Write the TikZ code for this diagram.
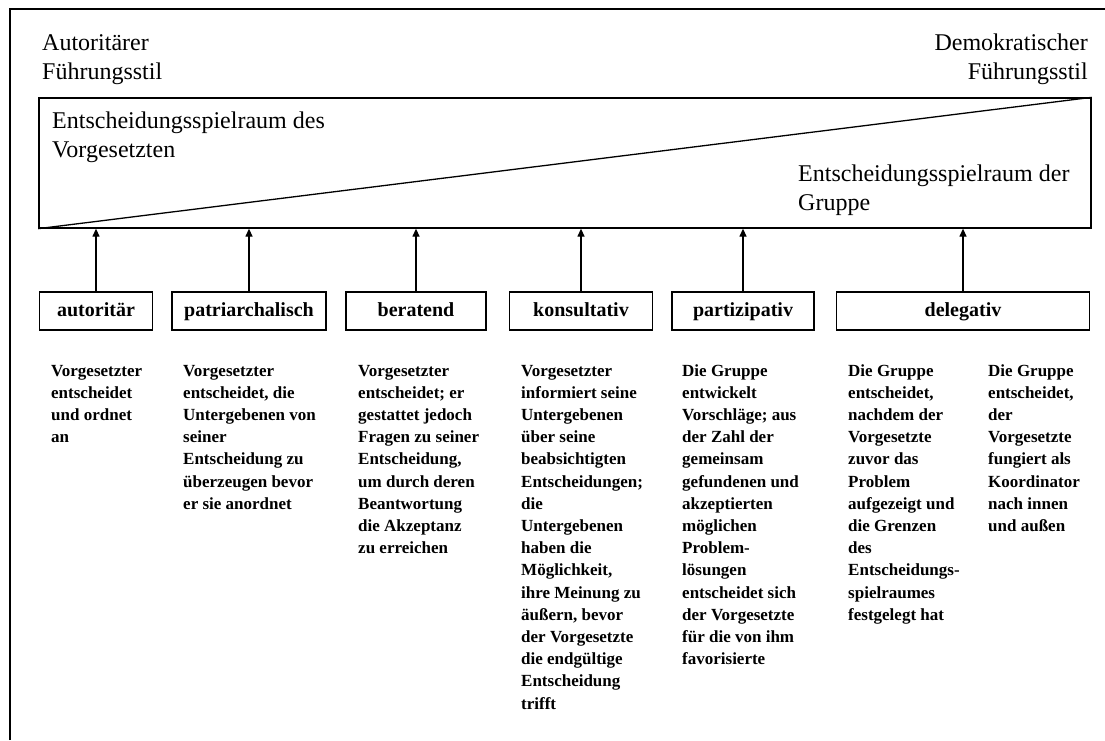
\documentclass[tikz,border=0pt]{standalone}
\usepackage{fontspec}
\setmainfont{Liberation Serif}
\usetikzlibrary{arrows.meta}
\tikzset{
  frame/.style={line width=1.2pt},
  rangebox/.style={draw, line width=1.3pt, minimum width=1052pt, minimum height=130pt, inner sep=0},
  stylebox/.style={draw, line width=1.2pt, minimum height=38pt, inner sep=0, text height=14pt, text depth=4pt, font=\bfseries\fontsize{20}{24}\selectfont},
  up/.style={line width=1.3pt, -{Triangle[length=8pt,width=7pt]}},
  toplabel/.style={inner sep=0, font=\fontsize{24}{29}\selectfont},
  desc/.style={anchor=base west, inner sep=0, font=\bfseries\fontsize{17}{22.2}\selectfont}
}
\begin{document}
\begin{tikzpicture}[x=1pt,y=-1pt]
\useasboundingbox (0,0) rectangle (1105,740);
% outer frame (only left and top edges visible)
\coordinate (fbl) at (10,740);
\coordinate (ftl) at (10,9);
\coordinate (ftr) at (1105,9);
\draw[frame] (fbl) -- (ftl) -- (ftr);

% style labels
\node[toplabel, anchor=base west] (aut) at (42,50) {\parbox[t]{200pt}{\raggedright Autoritärer\\Führungsstil}};
\node[toplabel, anchor=base east] (dem) at (1088,50) {\parbox[t]{200pt}{\raggedleft Demokratischer\\Führungsstil}};

% decision range
\node[rangebox] (rg) at (565,163) {};
\draw[line width=1.3pt] (rg.south west) -- (rg.north east);
\node[toplabel, anchor=base west] (vg) at (52,128) {\parbox[t]{400pt}{\raggedright Entscheidungsspielraum des\\Vorgesetzten}};
\node[toplabel, anchor=base west] (gr) at (798,181) {\parbox[t]{300pt}{\raggedright Entscheidungsspielraum der\\Gruppe}};

% style boxes
\node[stylebox, minimum width=113pt] (b1) at (96,311) {autoritär};
\node[stylebox, minimum width=154pt] (b2) at (249,311) {patriarchalisch};
\node[stylebox, minimum width=140pt] (b3) at (416,311) {beratend};
\node[stylebox, minimum width=143pt] (b4) at (581,311) {konsultativ};
\node[stylebox, minimum width=142pt] (b5) at (743,311) {partizipativ};
\node[stylebox, minimum width=253pt] (b6) at (963,311) {delegativ};

\foreach \b in {b1,b2,b3,b4,b5,b6}
  \draw[up] (\b.north) -- (\b.north |- rg.south);

% descriptions
\node[desc] (d1) at (51,376) {\parbox[t]{160pt}{\raggedright Vorgesetzter\\entscheidet\\und ordnet\\an}};
\node[desc] (d2) at (183,376) {\parbox[t]{160pt}{\raggedright Vorgesetzter\\entscheidet, die\\Untergebenen von\\seiner\\Entscheidung zu\\überzeugen bevor\\er sie anordnet}};
\node[desc] (d3) at (358,376) {\parbox[t]{160pt}{\raggedright Vorgesetzter\\entscheidet; er\\gestattet jedoch\\Fragen zu seiner\\Entscheidung,\\um durch deren\\Beantwortung\\die Akzeptanz\\zu erreichen}};
\node[desc] (d4) at (521,376) {\parbox[t]{160pt}{\raggedright Vorgesetzter\\informiert seine\\Untergebenen\\über seine\\beabsichtigten\\Entscheidungen;\\die\\Untergebenen\\haben die\\Möglichkeit,\\ihre Meinung zu\\äußern, bevor\\der Vorgesetzte\\die endgültige\\Entscheidung\\trifft}};
\node[desc] (d5) at (682,376) {\parbox[t]{160pt}{\raggedright Die Gruppe\\entwickelt\\Vorschläge; aus\\der Zahl der\\gemeinsam\\gefundenen und\\akzeptierten\\möglichen\\Problem-\\lösungen\\entscheidet sich\\der Vorgesetzte\\für die von ihm\\favorisierte}};
\node[desc] (d6) at (848,376) {\parbox[t]{160pt}{\raggedright Die Gruppe\\entscheidet,\\nachdem der\\Vorgesetzte\\zuvor das\\Problem\\aufgezeigt und\\die Grenzen\\des\\Entscheidungs-\\spielraumes\\festgelegt hat}};
\node[desc] (d7) at (988,376) {\parbox[t]{160pt}{\raggedright Die Gruppe\\entscheidet,\\der\\Vorgesetzte\\fungiert als\\Koordinator\\nach innen\\und außen}};
\end{tikzpicture}
\end{document}
